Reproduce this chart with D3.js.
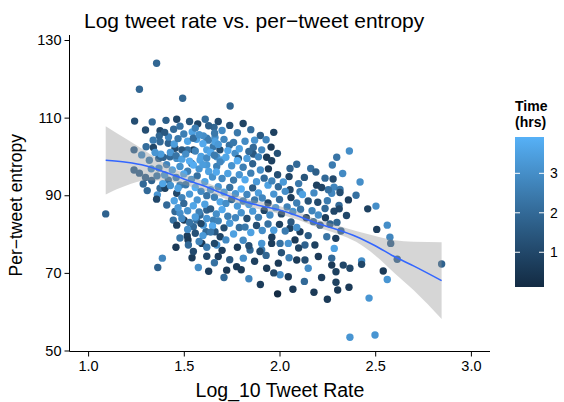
<!DOCTYPE html>
<html><head><meta charset="utf-8">
<script src="https://cdn.jsdelivr.net/npm/d3@7"></script>
<style>body{margin:0;background:#fff} svg{display:block} text{font-family:"Liberation Sans",Arial,sans-serif}</style>
</head><body><svg id="c" width="564" height="402"></svg>
<script>
const chartTitle = "Log tweet rate vs. per\u2212tweet entropy";
const xLabel = "Log_10 Tweet Rate";
const yLabel = "Per\u2212tweet entropy";
const legendTitle = ["Time", "(hrs)"];
const xTicks = [1.0, 1.5, 2.0, 2.5, 3.0];
const yTicks = [50, 70, 90, 110, 130];
const legendTicks = [1, 2, 3];

// [log10 tweet rate, per-tweet entropy, time (hrs)]
const points = [
[1.358,124.0,1.9],[1.268,117.3,1.9],[1.494,115.0,1.9],[1.243,109.1,1.2],[1.335,108.9,2.0],[1.407,109.3,1.7],
[1.463,109.6,1.0],[1.447,107.0,2.0],[1.376,106.6,1.0],[1.573,108.4,0.9],[1.612,109.6,2.1],[1.680,109.0,1.1],
[1.544,106.3,3.5],[1.658,107.5,1.9],[1.372,105.3,1.9],[1.240,101.7,1.8],[1.303,102.5,2.1],[1.341,102.3,1.0],
[1.376,103.8,2.0],[1.419,103.4,1.8],[1.369,99.5,1.9],
[1.567,104.4,3.5],[1.550,101.7,0.8],[1.520,101.7,2.2],[1.490,101.7,1.5],[1.454,102.1,1.2],[1.428,99.9,2.0],
[1.463,99.5,3.0],[1.393,99.8,1.8],[1.620,104.7,2.5],[1.663,104.9,3.0],[1.654,102.5,2.4],[1.620,101.7,3.5],
[1.672,99.9,3.0],[1.585,99.1,3.5],[1.541,98.2,2.0],[1.620,97.8,3.3],[1.672,97.4,2.6],
[1.742,113.0,1.9],[1.661,106.0,2.4],[1.602,105.3,3.0],[1.663,103.8,3.5],[1.628,104.2,2.5],[1.738,102.9,2.2],
[1.689,101.7,1.2],[1.768,100.8,3.0],[1.785,99.5,1.4],[1.698,99.1,3.5],[1.863,102.3,2.0],[1.907,101.7,2.8],
[1.863,100.6,1.5],[1.956,102.4,0.6],[1.989,100.8,1.3],[1.933,99.8,0.6],[1.959,98.9,0.8],[1.942,96.8,0.6],
[2.090,98.0,2.0],[2.055,96.9,1.8],[2.163,96.9,2.2],[2.276,97.8,2.5],[2.299,99.8,2.3],[2.365,101.4,3.0],
[2.421,93.4,3.0],[2.285,92.1,2.8],[2.316,91.5,2.4],[2.316,90.7,1.2],[2.273,90.5,2.8],[2.311,87.4,2.0],
[2.312,86.5,1.0],[2.285,85.9,1.0],[2.461,86.5,0.8],[2.504,87.2,3.0],[2.563,82.3,3.0],[2.508,81.2,0.7],
[2.577,79.2,2.8],[2.581,77.6,1.8],[2.615,73.5,1.8],[2.847,72.3,1.8],[2.321,80.8,1.8],[2.264,82.6,1.8],
[2.294,78.9,0.7],[2.286,76.3,3.5],[2.273,73.8,2.0],[2.273,72.0,0.6],[2.333,72.0,1.0],[2.368,71.2,1.0],
[2.295,70.3,0.8],[2.429,73.1,3.0],[2.429,72.2,1.0],[2.542,70.5,0.6],[2.563,68.3,3.2],[2.295,67.6,0.8],
[2.304,65.6,0.6],[2.363,66.3,0.6],[2.468,63.5,3.2],[2.368,53.4,3.2],[2.499,54.0,3.2],
[1.092,85.2,1.8],[1.240,96.5,1.8],[1.268,95.7,1.8],[1.288,92.9,2.0],[1.309,91.2,2.0],[1.332,93.8,1.8],
[1.362,90.1,3.2],[1.358,89.0,1.0],[1.376,91.8,2.0],[1.402,91.8,0.8],[1.419,93.9,2.2],[1.411,87.5,2.0],
[1.454,85.8,2.0],[1.463,90.5,1.0],[1.480,92.6,2.6],[1.445,83.6,2.2],[1.463,82.3,0.8],[1.501,83.6,0.6],
[1.480,85.4,3.0],[1.518,79.5,0.7],[1.522,78.5,0.6],[1.524,77.2,2.0],[1.459,76.6,0.6],[1.388,73.8,2.8],
[1.364,71.4,1.8],[1.543,73.9,0.6],[1.576,71.4,3.0],[1.594,77.6,0.6],[1.620,76.6,2.5],[1.616,80.6,2.0],
[1.680,74.2,0.7],[1.672,77.2,3.0],[1.550,81.9,2.0],[1.567,83.6,2.2],[1.602,82.3,3.2],[1.585,84.9,2.0],
[1.620,86.2,1.8],[1.654,83.6,2.6],[1.663,80.6,1.5],
[2.238,94.4,2.0],[2.194,92.6,0.8],[2.255,91.4,2.2],[2.107,90.9,2.5],[2.055,91.4,1.0],[1.994,92.2,2.0],
[2.238,86.6,2.0],[2.203,84.9,3.0],[2.177,83.2,2.0],[2.212,82.3,1.5],[2.247,79.3,2.3],[2.185,77.2,0.8],
[2.107,80.6,0.7],[2.055,81.5,0.8],[2.081,78.5,0.6],[2.133,77.2,1.8],[2.046,77.6,3.2],[2.003,77.6,2.2],
[1.959,77.6,0.7],[1.907,75.9,2.5],[1.907,77.6,3.2],[2.203,74.2,0.6],[2.090,73.3,0.6],[2.133,73.3,1.2],
[2.150,71.2,3.0],[1.994,72.5,0.6],[2.046,69.0,0.6],[2.003,69.5,3.0],[1.933,71.2,0.6],[1.811,73.8,3.0],
[1.776,71.6,0.6],[1.724,70.7,0.6],[1.846,75.9,2.0],[1.898,75.5,1.0],
[1.90,67.0,0.7],[2.07,65.8,0.6],[2.13,67.8,2.0],[2.18,65.0,0.6],[1.84,68.5,2.8],[2.22,68.8,0.7],
[1.99,64.6,0.12],[2.25,63.2,0.6],
[1.42,105.0,2.8],[1.45,103.2,3.4],[1.47,104.6,2.4],[1.50,105.8,2.6],[1.52,103.9,3.6],[1.55,104.7,2.1],
[1.58,105.6,3.1],[1.60,103.3,3.7],[1.43,101.0,3.2],[1.46,100.2,2.3],[1.49,99.3,3.5],[1.51,100.6,3.0],
[1.53,98.8,3.8],[1.56,101.4,2.7],[1.59,100.0,3.5],[1.41,97.9,2.8],[1.44,96.5,3.6],[1.48,97.4,3.1],
[1.52,96.2,2.6],[1.55,97.8,3.8],[1.58,96.8,3.2],[1.40,95.2,3.3],[1.46,94.6,2.7],[1.50,95.5,3.7],
[1.54,94.1,3.3],[1.57,95.0,2.2],[1.60,97.9,3.4],[1.62,99.6,2.9],[1.64,101.0,3.7],[1.66,100.3,2.5],
[1.63,96.1,3.5],[1.65,94.7,3.1],[1.61,93.5,3.6],[1.38,100.6,3.4],[1.37,97.0,2.9],[1.39,93.0,3.6],
[1.43,92.5,3.1],[1.47,91.8,3.5],[1.51,92.7,2.4],[1.56,92.0,3.92],[1.59,91.0,2.9],[1.53,90.3,3.3],
[1.49,89.4,2.7],[1.45,88.6,3.5],[1.57,88.8,3.2],
[1.68,103.1,3.3],[1.71,104.4,2.8],[1.73,101.5,3.7],[1.76,103.6,2.4],[1.79,102.0,3.5],[1.82,103.9,2.9],
[1.84,101.3,2.0],[1.87,104.2,3.1],[1.69,98.6,2.8],[1.72,99.8,3.6],[1.75,97.6,3.1],[1.78,98.9,3.8],
[1.81,97.2,2.6],[1.83,99.5,3.4],[1.86,98.1,1.8],[1.89,99.9,2.8],[1.67,96.0,3.7],[1.70,94.3,2.9],
[1.73,95.6,3.5],[1.76,93.9,2.4],[1.79,95.3,3.2],[1.82,94.0,3.7],[1.85,95.7,2.6],[1.88,93.5,3.3],
[1.68,92.2,3.2],[1.71,90.8,3.6],[1.74,92.0,2.2],[1.77,90.4,3.2],[1.80,91.6,3.8],[1.83,90.2,2.8],
[1.86,91.9,1.6],[1.89,90.6,3.4],[1.66,89.5,2.6],[1.69,88.3,3.6],[1.72,87.9,3.0],[1.75,88.9,2.0],
[1.78,87.2,3.3],[1.81,88.5,2.7],[1.84,87.6,3.5],[1.87,88.8,2.4],[1.64,91.4,3.4],[1.62,89.9,2.3],
[1.90,96.5,3.0],[1.92,94.4,2.0],[1.94,92.6,3.5],
[1.47,86.8,3.3],[1.50,87.9,2.0],[1.52,86.0,3.1],[1.55,87.3,3.6],[1.58,85.7,2.6],[1.61,87.7,3.5],
[1.64,86.5,1.6],[1.67,85.2,3.0],[1.70,86.3,3.7],[1.73,84.6,2.6],[1.49,84.0,2.9],[1.53,83.0,2.3],
[1.56,84.4,3.4],[1.59,82.7,1.0],[1.62,84.0,3.2],[1.65,82.1,3.7],[1.68,83.4,2.7],[1.71,81.6,1.2],
[1.74,82.8,3.3],[1.77,84.2,2.8],[1.52,81.2,3.0],[1.56,80.2,1.3],[1.60,79.6,3.3],[1.64,80.5,2.4],
[1.69,79.3,0.9],[1.72,78.5,2.9],[1.76,80.0,3.5],[1.79,81.7,2.1],[1.58,78.1,2.7],[1.66,77.6,1.0],
[1.80,85.5,3.1],[1.83,84.0,1.3],[1.86,85.9,3.3],[1.89,84.3,2.6],[1.92,86.1,0.9],[1.95,84.9,2.9],
[1.98,86.8,3.4],[2.01,85.2,1.1],[2.04,87.0,2.7],[2.07,85.8,3.2],[1.82,81.8,2.4],[1.85,80.4,3.5],
[1.88,82.2,1.2],[1.91,80.9,3.0],[1.94,82.6,2.2],[1.97,81.0,3.4],[2.00,82.5,0.8],[2.03,80.8,2.5],
[2.06,83.1,1.5],[2.09,81.7,3.1],[1.91,89.3,2.8],[1.94,88.0,1.0],[1.97,90.3,3.2],[2.00,88.9,2.0],
[2.03,91.0,3.0],[2.06,89.4,0.7],[2.09,88.0,2.6],[2.12,90.2,3.5],[2.15,88.5,1.3],[2.18,90.6,2.9],
[1.96,93.7,2.7],[1.99,95.3,1.2],[2.02,93.4,3.3],[2.05,94.8,0.9],[2.10,93.0,2.4],[2.13,94.6,1.4],
[2.11,86.4,2.3],[2.14,84.2,0.8],[2.17,86.0,2.7],[2.20,88.2,1.1],
[1.48,107.8,2.2],[1.53,109.0,1.4],[1.56,107.3,2.6],[1.63,107.9,1.7],[1.70,106.7,2.9],[1.74,108.0,1.2],
[1.78,106.1,2.4],[1.81,108.5,0.9],[1.85,106.9,2.1],[1.90,105.4,1.6],[1.93,104.3,2.8],[1.97,106.2,0.8],
[1.40,106.2,1.5],[1.34,104.2,2.5],[1.30,106.8,1.2],
[1.32,99.0,2.6],[1.35,101.0,3.2],[1.33,96.8,2.9],[1.36,95.0,2.4],[1.30,94.6,1.8],[1.28,100.4,3.0],
[1.62,74.3,1.0],[1.66,72.6,2.2],[1.70,75.8,0.7],[1.74,73.4,1.5],[1.78,76.6,0.6],[1.81,78.4,2.9],
[1.84,77.0,1.2],[1.87,73.0,0.8],[1.93,74.5,1.9],[1.96,79.2,0.7],[2.01,75.2,1.3],[2.05,73.9,2.6],
[2.10,76.4,0.9],[2.15,79.6,1.6],[1.55,75.5,1.1],[1.48,79.0,2.4],[1.63,70.4,0.7],[1.71,68.8,2.0],
[1.80,70.8,0.6],[1.97,70.0,1.0],
[2.22,92.0,0.9],[2.25,88.6,2.5],[2.28,94.2,1.1],[2.33,95.6,2.9],[2.36,88.8,0.7],[2.19,96.0,1.7],
[2.24,84.2,0.7],[2.30,83.0,1.9],[2.35,84.8,1.0],[2.40,90.0,2.2]
];

// loess fit and half-width of its 95% band
const smoothX  = [1.092, 1.2, 1.3, 1.4, 1.5, 1.6, 1.7, 1.8, 1.9, 2.0, 2.1, 2.2, 2.3, 2.4, 2.5, 2.6, 2.7, 2.847];
const smoothY  = [99.0, 98.5, 97.6, 96.0, 94.2, 92.5, 90.5, 88.6, 87.3, 86.2, 84.6, 82.7, 81.2, 79.4, 77.0, 74.2, 71.8, 68.0];
const smoothHW = [8.8, 6.0, 3.8, 2.2, 1.5, 1.2, 1.1, 1.0, 1.0, 1.0, 1.0, 1.0, 1.1, 1.4, 2.5, 4.2, 6.2, 9.9];

const svg = d3.select("#c");
const x = d3.scaleLinear().domain([1, 3]).range([88.1, 470.9]);
const y = d3.scaleLinear().domain([50, 130]).range([350.5, 40]);
const tExt = d3.extent(points, d => d[2]);
const color = d3.scaleLinear().domain(tExt).range(["#132B43", "#56B1F7"]).interpolate(d3.interpolateLab);

// points
svg.append("g").selectAll("circle").data(points).join("circle")
  .attr("cx", d => x(d[0])).attr("cy", d => y(d[1])).attr("r", 3.7)
  .attr("fill", d => color(d[2]));

// band + line
const sm = smoothX.map((v, i) => ({x: v, y: smoothY[i], lo: smoothY[i] - smoothHW[i], hi: smoothY[i] + smoothHW[i]}));
svg.append("path").datum(sm)
  .attr("d", d3.area().x(d => x(d.x)).y0(d => y(d.lo)).y1(d => y(d.hi)).curve(d3.curveMonotoneX))
  .attr("fill", "#999999").attr("fill-opacity", 0.4);
svg.append("path").datum(sm)
  .attr("d", d3.line().x(d => x(d.x)).y(d => y(d.y)).curve(d3.curveMonotoneX))
  .attr("fill", "none").attr("stroke", "#3366FF").attr("stroke-width", 1.6);

// axes
const panel = {l: 69.5, r: 490, t: 35, b: 351.5};
const ya = svg.append("g").attr("transform", `translate(${panel.l},0)`)
  .call(d3.axisLeft(y).tickValues(yTicks).tickFormat(d3.format("d")).tickSize(5).tickPadding(3));
const xa = svg.append("g").attr("transform", `translate(0,${panel.b})`)
  .call(d3.axisBottom(x).tickValues(xTicks).tickFormat(d3.format(".1f")).tickSize(5).tickPadding(4));
[ya, xa].forEach(g => {
  g.select(".domain").remove();
  g.selectAll("text").attr("font-size", 14.5).attr("fill", "#000").attr("font-family", "Liberation Sans, Arial, sans-serif");
  g.selectAll("line").attr("stroke", "#000");
});
svg.append("line").attr("x1", panel.l).attr("x2", panel.l).attr("y1", panel.t).attr("y2", panel.b).attr("stroke", "#000");
svg.append("line").attr("x1", panel.l).attr("x2", panel.r).attr("y1", panel.b).attr("y2", panel.b).attr("stroke", "#000");

// titles
svg.append("text").attr("x", 84).attr("y", 28).attr("font-size", 21).text(chartTitle);
svg.append("text").attr("x", 280).attr("y", 397).attr("text-anchor", "middle").attr("font-size", 19.5).text(xLabel);
svg.append("text").attr("transform", `translate(22,${(panel.t + panel.b) / 2 + 12}) rotate(-90)`).attr("text-anchor", "middle").attr("font-size", 17.5).text(yLabel);

// legend
const lgTop = 137, lgBot = 287, lgX = 515, lgW = 29;
const defs = svg.append("defs");
const grad = defs.append("linearGradient").attr("id", "lg").attr("x1", 0).attr("x2", 0).attr("y1", 1).attr("y2", 0);
d3.range(0, 1.0001, 0.1).forEach(f => grad.append("stop").attr("offset", f).attr("stop-color", color(tExt[0] + f * (tExt[1] - tExt[0]))));
svg.append("rect").attr("x", lgX).attr("y", lgTop).attr("width", lgW).attr("height", lgBot - lgTop).attr("fill", "url(#lg)");
const ls = d3.scaleLinear().domain(tExt).range([lgBot, lgTop]);
legendTicks.forEach(t => {
  svg.append("line").attr("x1", lgX).attr("x2", lgX + 5).attr("y1", ls(t)).attr("y2", ls(t)).attr("stroke", "#fff");
  svg.append("line").attr("x1", lgX + lgW - 5).attr("x2", lgX + lgW).attr("y1", ls(t)).attr("y2", ls(t)).attr("stroke", "#fff");
  svg.append("text").attr("x", lgX + lgW + 6).attr("y", ls(t)).attr("dy", "0.35em").attr("font-size", 14).text(t);
});
legendTitle.forEach((s, i) => svg.append("text").attr("x", lgX).attr("y", 111 + i * 16).attr("font-size", 14).attr("font-weight", "bold").text(s));
</script></body></html>
